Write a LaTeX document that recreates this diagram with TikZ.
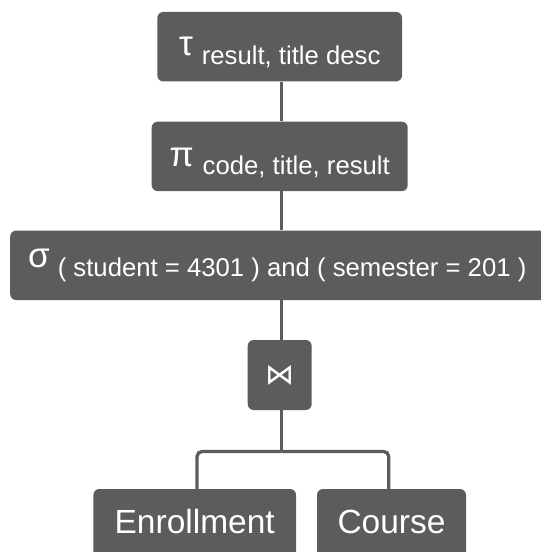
\documentclass[tikz,border=0pt]{standalone}
\usepackage{fontspec}
\setmainfont{Liberation Sans}
\newfontfamily\symfont{DejaVu Sans}
\usetikzlibrary{backgrounds}
\definecolor{boxgray}{HTML}{5C5C5C}
\tikzset{
  opbox/.style={fill=boxgray, text=white, rounded corners=6pt,
    inner xsep=0pt, inner ysep=0pt, minimum height=69.5pt},
  link/.style={draw=boxgray, line width=3.3pt},
}
% operator symbol raised above the subscript baseline, then the subscript
\newcommand\opsym[2]{\raisebox{#1}{\fontsize{35}{35}\selectfont #2}}
\newcommand\opsub[1]{{\fontsize{25.7}{25.7}\selectfont #1}}
\begin{document}
\begin{tikzpicture}[x=1pt, y=-1pt]
\useasboundingbox (0,0) rectangle (541,552);
\clip (0,0) rectangle (541,552);

\node[opbox, minimum width=244.7pt, text height=34.6pt, text depth=0pt]
  (sort) at (279.7,46.7) {\opsym{9pt}{τ}\hspace{9pt}\opsub{result, title desc}};
\node[opbox, minimum width=256pt, text height=35.4pt, text depth=0pt]
  (proj) at (279.7,156.4) {\opsym{8pt}{π}\hspace{9pt}\opsub{code, title, result}};
\node[opbox, anchor=west, inner xsep=18pt, text height=22.4pt, text depth=0pt]
  (sel) at (10,265.3) {\makebox[510pt][l]{\opsym{9pt}{σ}\hspace{8pt}\opsub{( student = 4301 ) and ( semester = 201 )}}};
\node[opbox, minimum width=64pt, minimum height=70pt]
  (join) at (279.7,375) {\symfont\fontsize{29}{29}\selectfont\raisebox{-2pt}{⋈}};
\node[opbox, minimum width=202.7pt, minimum height=69pt, text height=19pt, text depth=0pt]
  (enr) at (194.7,523.5) {\fontsize{33.5}{33.5}\selectfont Enrollment};
\node[opbox, minimum width=149pt, minimum height=69pt, text height=19pt, text depth=0pt]
  (crs) at (391.5,523.5) {\fontsize{33.5}{33.5}\selectfont Course};

\coordinate (fork) at (281.5,451.5);

\begin{scope}[on background layer]
  \draw[link] (sort.south -| fork) -- (proj.north -| fork);
  \draw[link] (proj.south -| fork) -- (sel.north -| fork);
  \draw[link] (sel.south -| fork) -- (join.north -| fork);
  \draw[link] (join.south -| fork) -- (fork);
  \draw[link, rounded corners=5pt] (fork) -| ([xshift=2.3pt]enr.north);
  \draw[link, rounded corners=5pt] (fork) -| ([xshift=-2.8pt]crs.north);
\end{scope}
\end{tikzpicture}
\end{document}
